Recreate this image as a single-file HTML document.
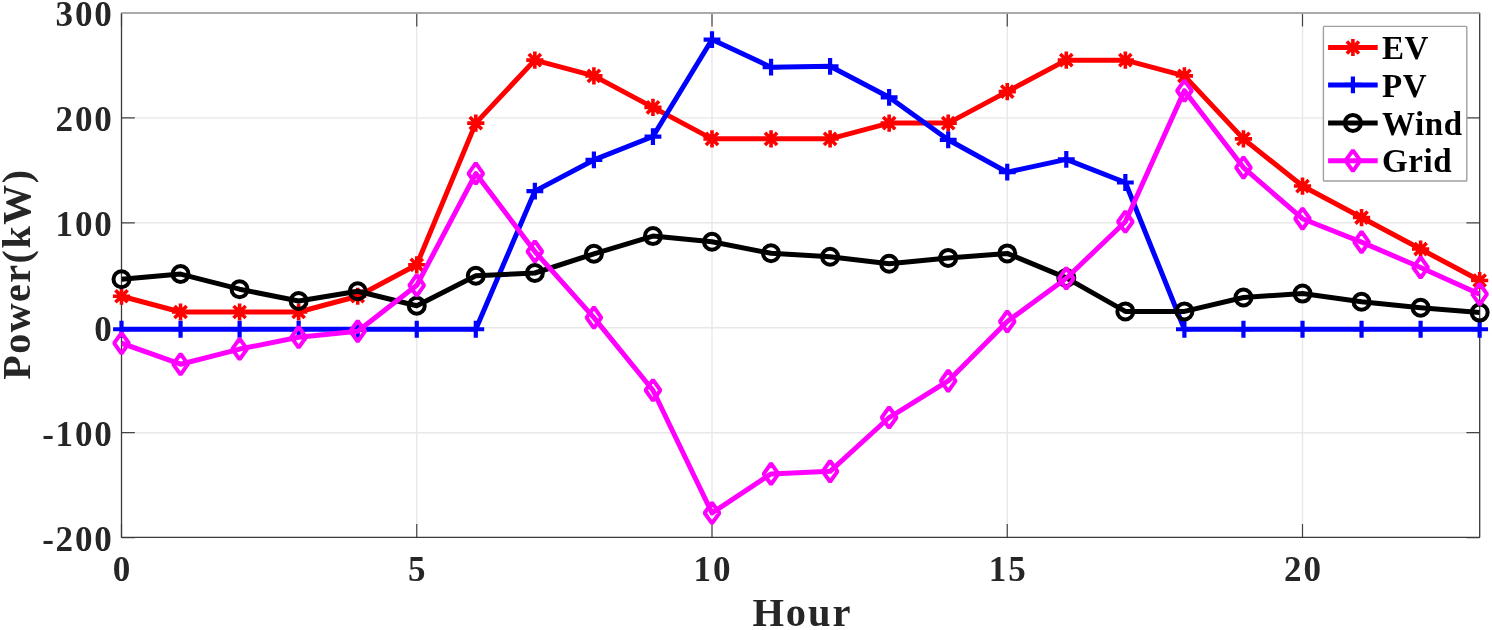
<!DOCTYPE html><html><head><meta charset="utf-8"><style>html,body{margin:0;padding:0;background:#fff;}svg{display:block;will-change:transform;}text{font-family:"Liberation Serif",serif;font-weight:bold;}</style></head><body>
<svg width="1492" height="630" viewBox="0 0 1492 630">
<rect width="1492" height="630" fill="#fff"/>
<path d="M416.75,13.1V537.4M712.00,13.1V537.4M1007.25,13.1V537.4M1302.50,13.1V537.4M121.5,432.70H1479.7M121.5,327.75H1479.7M121.5,222.80H1479.7M121.5,117.85H1479.7" stroke="#e8e8e8" stroke-width="1.4" fill="none"/>
<path d="M121.50,537.4V524.1M121.50,13.1V26.4M416.75,537.4V524.1M416.75,13.1V26.4M712.00,537.4V524.1M712.00,13.1V26.4M1007.25,537.4V524.1M1007.25,13.1V26.4M1302.50,537.4V524.1M1302.50,13.1V26.4M121.5,537.65H134.8M1479.7,537.65H1466.4M121.5,432.70H134.8M1479.7,432.70H1466.4M121.5,327.75H134.8M1479.7,327.75H1466.4M121.5,222.80H134.8M1479.7,222.80H1466.4M121.5,117.85H134.8M1479.7,117.85H1466.4M121.5,12.90H134.8M1479.7,12.90H1466.4" stroke="#444" stroke-width="1.2" fill="none"/>
<path d="M121.5,537.4H1479.7M121.5,13.1V537.4M1479.7,13.1V537.4" stroke="#3a3a3a" stroke-width="1.3" fill="none"/>
<path d="M121.5,13.1H1479.7" stroke="#aaaaaa" stroke-width="2" fill="none"/>
<clipPath id="cstar"><rect x="121.5" y="13.1" width="1358.2" height="524.3"/></clipPath>
<clipPath id="cplus"><rect x="121.5" y="13.1" width="1358.2" height="524.3"/></clipPath>
<clipPath id="ccircle"><rect x="121.5" y="13.1" width="1358.2" height="524.3"/></clipPath>
<clipPath id="cdiamond"><rect x="121.5" y="13.1" width="1358.2" height="524.3"/></clipPath>
<polyline points="121.50,296.26 180.55,312.01 239.60,312.01 298.65,312.01 357.70,296.26 416.75,264.78 475.80,123.10 534.85,60.13 593.90,75.87 652.95,107.35 712.00,138.84 771.05,138.84 830.10,138.84 889.15,123.10 948.20,123.10 1007.25,91.61 1066.30,60.13 1125.35,60.13 1184.40,75.87 1243.45,138.84 1302.50,186.07 1361.55,217.55 1420.60,249.04 1479.65,280.52" fill="none" stroke="#ff0000" stroke-width="5" stroke-linejoin="round" clip-path="url(#cstar)"/>
<path d="M112.90,296.26H130.10M121.50,287.66V304.87M115.42,290.18L127.58,302.35M115.42,302.35L127.58,290.18M171.95,312.01H189.15M180.55,303.41V320.61M174.47,305.93L186.63,318.09M174.47,318.09L186.63,305.93M231.00,312.01H248.20M239.60,303.41V320.61M233.52,305.93L245.68,318.09M233.52,318.09L245.68,305.93M290.05,312.01H307.25M298.65,303.41V320.61M292.57,305.93L304.73,318.09M292.57,318.09L304.73,305.93M349.10,296.26H366.30M357.70,287.66V304.87M351.62,290.18L363.78,302.35M351.62,302.35L363.78,290.18M408.15,264.78H425.35M416.75,256.18V273.38M410.67,258.70L422.83,270.86M410.67,270.86L422.83,258.70M467.20,123.10H484.40M475.80,114.50V131.70M469.72,117.02L481.88,129.18M469.72,129.18L481.88,117.02M526.25,60.13H543.45M534.85,51.53V68.73M528.77,54.05L540.93,66.21M528.77,66.21L540.93,54.05M585.30,75.87H602.50M593.90,67.27V84.47M587.82,69.79L599.98,81.95M587.82,81.95L599.98,69.79M644.35,107.35H661.55M652.95,98.75V115.95M646.87,101.27L659.03,113.44M646.87,113.44L659.03,101.27M703.40,138.84H720.60M712.00,130.24V147.44M705.92,132.76L718.08,144.92M705.92,144.92L718.08,132.76M762.45,138.84H779.65M771.05,130.24V147.44M764.97,132.76L777.13,144.92M764.97,144.92L777.13,132.76M821.50,138.84H838.70M830.10,130.24V147.44M824.02,132.76L836.18,144.92M824.02,144.92L836.18,132.76M880.55,123.10H897.75M889.15,114.50V131.70M883.07,117.02L895.23,129.18M883.07,129.18L895.23,117.02M939.60,123.10H956.80M948.20,114.50V131.70M942.12,117.02L954.28,129.18M942.12,129.18L954.28,117.02M998.65,91.61H1015.85M1007.25,83.01V100.21M1001.17,85.53L1013.33,97.69M1001.17,97.69L1013.33,85.53M1057.70,60.13H1074.90M1066.30,51.53V68.73M1060.22,54.05L1072.38,66.21M1060.22,66.21L1072.38,54.05M1116.75,60.13H1133.95M1125.35,51.53V68.73M1119.27,54.05L1131.43,66.21M1119.27,66.21L1131.43,54.05M1175.80,75.87H1193.00M1184.40,67.27V84.47M1178.32,69.79L1190.48,81.95M1178.32,81.95L1190.48,69.79M1234.85,138.84H1252.05M1243.45,130.24V147.44M1237.37,132.76L1249.53,144.92M1237.37,144.92L1249.53,132.76M1293.90,186.07H1311.10M1302.50,177.47V194.67M1296.42,179.99L1308.58,192.15M1296.42,192.15L1308.58,179.99M1352.95,217.55H1370.15M1361.55,208.95V226.15M1355.47,211.47L1367.63,223.63M1355.47,223.63L1367.63,211.47M1412.00,249.04H1429.20M1420.60,240.44V257.64M1414.52,242.96L1426.68,255.12M1414.52,255.12L1426.68,242.96M1471.05,280.52H1488.25M1479.65,271.92V289.12M1473.57,274.44L1485.73,286.60M1473.57,286.60L1485.73,274.44" stroke="#ff0000" stroke-width="3.6" fill="none"/>
<polyline points="121.50,329.25 180.55,329.25 239.60,329.25 298.65,329.25 357.70,329.25 416.75,329.25 475.80,329.25 534.85,191.11 593.90,159.93 652.95,136.53 712.00,39.56 771.05,67.16 830.10,66.32 889.15,97.28 948.20,139.78 1007.25,172.21 1066.30,159.41 1125.35,182.50 1184.40,329.25 1243.45,329.25 1302.50,329.25 1361.55,329.25 1420.60,329.25 1479.65,329.25" fill="none" stroke="#0000ff" stroke-width="5" stroke-linejoin="round" clip-path="url(#cplus)"/>
<path d="M113.10,329.25H129.90M121.50,320.85V337.65M172.15,329.25H188.95M180.55,320.85V337.65M231.20,329.25H248.00M239.60,320.85V337.65M290.25,329.25H307.05M298.65,320.85V337.65M349.30,329.25H366.10M357.70,320.85V337.65M408.35,329.25H425.15M416.75,320.85V337.65M467.40,329.25H484.20M475.80,320.85V337.65M526.45,191.11H543.25M534.85,182.71V199.51M585.50,159.93H602.30M593.90,151.53V168.33M644.55,136.53H661.35M652.95,128.13V144.93M703.60,39.56H720.40M712.00,31.16V47.96M762.65,67.16H779.45M771.05,58.76V75.56M821.70,66.32H838.50M830.10,57.92V74.72M880.75,97.28H897.55M889.15,88.88V105.68M939.80,139.78H956.60M948.20,131.38V148.18M998.85,172.21H1015.65M1007.25,163.81V180.61M1057.90,159.41H1074.70M1066.30,151.01V167.81M1116.95,182.50H1133.75M1125.35,174.10V190.90M1176.00,329.25H1192.80M1184.40,320.85V337.65M1235.05,329.25H1251.85M1243.45,320.85V337.65M1294.10,329.25H1310.90M1302.50,320.85V337.65M1353.15,329.25H1369.95M1361.55,320.85V337.65M1412.20,329.25H1429.00M1420.60,320.85V337.65M1471.25,329.25H1488.05M1479.65,320.85V337.65" stroke="#0000ff" stroke-width="4.2" fill="none"/>
<polyline points="121.50,279.30 180.55,274.05 239.60,289.20 298.65,301.00 357.70,291.30 416.75,305.70 475.80,275.80 534.85,273.00 593.90,253.80 652.95,236.10 712.00,241.80 771.05,253.30 830.10,256.70 889.15,263.80 948.20,257.90 1007.25,253.40 1066.30,277.90 1125.35,311.40 1184.40,311.40 1243.45,297.50 1302.50,293.60 1361.55,301.70 1420.60,307.80 1479.65,312.60" fill="none" stroke="#000000" stroke-width="5" stroke-linejoin="round" clip-path="url(#ccircle)"/>
<circle cx="121.50" cy="279.30" r="8" stroke="#000000" stroke-width="4" fill="none"/>
<circle cx="180.55" cy="274.05" r="8" stroke="#000000" stroke-width="4" fill="none"/>
<circle cx="239.60" cy="289.20" r="8" stroke="#000000" stroke-width="4" fill="none"/>
<circle cx="298.65" cy="301.00" r="8" stroke="#000000" stroke-width="4" fill="none"/>
<circle cx="357.70" cy="291.30" r="8" stroke="#000000" stroke-width="4" fill="none"/>
<circle cx="416.75" cy="305.70" r="8" stroke="#000000" stroke-width="4" fill="none"/>
<circle cx="475.80" cy="275.80" r="8" stroke="#000000" stroke-width="4" fill="none"/>
<circle cx="534.85" cy="273.00" r="8" stroke="#000000" stroke-width="4" fill="none"/>
<circle cx="593.90" cy="253.80" r="8" stroke="#000000" stroke-width="4" fill="none"/>
<circle cx="652.95" cy="236.10" r="8" stroke="#000000" stroke-width="4" fill="none"/>
<circle cx="712.00" cy="241.80" r="8" stroke="#000000" stroke-width="4" fill="none"/>
<circle cx="771.05" cy="253.30" r="8" stroke="#000000" stroke-width="4" fill="none"/>
<circle cx="830.10" cy="256.70" r="8" stroke="#000000" stroke-width="4" fill="none"/>
<circle cx="889.15" cy="263.80" r="8" stroke="#000000" stroke-width="4" fill="none"/>
<circle cx="948.20" cy="257.90" r="8" stroke="#000000" stroke-width="4" fill="none"/>
<circle cx="1007.25" cy="253.40" r="8" stroke="#000000" stroke-width="4" fill="none"/>
<circle cx="1066.30" cy="277.90" r="8" stroke="#000000" stroke-width="4" fill="none"/>
<circle cx="1125.35" cy="311.40" r="8" stroke="#000000" stroke-width="4" fill="none"/>
<circle cx="1184.40" cy="311.40" r="8" stroke="#000000" stroke-width="4" fill="none"/>
<circle cx="1243.45" cy="297.50" r="8" stroke="#000000" stroke-width="4" fill="none"/>
<circle cx="1302.50" cy="293.60" r="8" stroke="#000000" stroke-width="4" fill="none"/>
<circle cx="1361.55" cy="301.70" r="8" stroke="#000000" stroke-width="4" fill="none"/>
<circle cx="1420.60" cy="307.80" r="8" stroke="#000000" stroke-width="4" fill="none"/>
<circle cx="1479.65" cy="312.60" r="8" stroke="#000000" stroke-width="4" fill="none"/>
<polyline points="121.50,343.21 180.55,364.21 239.60,349.06 298.65,337.26 357.70,331.21 416.75,285.33 475.80,173.55 534.85,251.52 593.90,317.64 652.95,390.22 712.00,512.98 771.05,473.88 830.10,471.32 889.15,417.52 948.20,380.91 1007.25,321.50 1066.30,278.32 1125.35,221.73 1184.40,90.72 1243.45,167.59 1302.50,218.72 1361.55,242.10 1420.60,267.49 1479.65,294.17" fill="none" stroke="#ff00ff" stroke-width="5" stroke-linejoin="round" clip-path="url(#cdiamond)"/>
<path d="M121.50,332.81L128.90,343.21L121.50,353.61L114.10,343.21ZM180.55,353.81L187.95,364.21L180.55,374.61L173.15,364.21ZM239.60,338.66L247.00,349.06L239.60,359.46L232.20,349.06ZM298.65,326.86L306.05,337.26L298.65,347.66L291.25,337.26ZM357.70,320.81L365.10,331.21L357.70,341.61L350.30,331.21ZM416.75,274.93L424.15,285.33L416.75,295.73L409.35,285.33ZM475.80,163.15L483.20,173.55L475.80,183.95L468.40,173.55ZM534.85,241.12L542.25,251.52L534.85,261.92L527.45,251.52ZM593.90,307.24L601.30,317.64L593.90,328.04L586.50,317.64ZM652.95,379.82L660.35,390.22L652.95,400.62L645.55,390.22ZM712.00,502.58L719.40,512.98L712.00,523.38L704.60,512.98ZM771.05,463.48L778.45,473.88L771.05,484.28L763.65,473.88ZM830.10,460.92L837.50,471.32L830.10,481.72L822.70,471.32ZM889.15,407.12L896.55,417.52L889.15,427.92L881.75,417.52ZM948.20,370.51L955.60,380.91L948.20,391.31L940.80,380.91ZM1007.25,311.10L1014.65,321.50L1007.25,331.90L999.85,321.50ZM1066.30,267.92L1073.70,278.32L1066.30,288.72L1058.90,278.32ZM1125.35,211.33L1132.75,221.73L1125.35,232.13L1117.95,221.73ZM1184.40,80.32L1191.80,90.72L1184.40,101.12L1177.00,90.72ZM1243.45,157.19L1250.85,167.59L1243.45,177.99L1236.05,167.59ZM1302.50,208.32L1309.90,218.72L1302.50,229.12L1295.10,218.72ZM1361.55,231.70L1368.95,242.10L1361.55,252.50L1354.15,242.10ZM1420.60,257.09L1428.00,267.49L1420.60,277.89L1413.20,267.49ZM1479.65,283.77L1487.05,294.17L1479.65,304.57L1472.25,294.17Z" stroke="#ff00ff" stroke-width="4" fill="none" stroke-linejoin="bevel"/>
<rect x="1323.4" y="26.4" width="143.4" height="154.6" rx="0.8" fill="#fff" stroke="#a0a0a0" stroke-width="1.4"/>
<path d="M1328.1,47.5H1377.7" stroke="#ff0000" stroke-width="5"/>
<path d="M1344.30,47.50H1361.50M1352.90,38.90V56.10M1346.82,41.42L1358.98,53.58M1346.82,53.58L1358.98,41.42" stroke="#ff0000" stroke-width="3.6" fill="none"/>
<path d="M1328.1,84.9H1377.7" stroke="#0000ff" stroke-width="5"/>
<path d="M1344.50,84.90H1361.30M1352.90,76.50V93.30" stroke="#0000ff" stroke-width="4.2" fill="none"/>
<path d="M1328.1,122.9H1377.7" stroke="#000000" stroke-width="5"/>
<circle cx="1352.9" cy="122.9" r="8" stroke="#000000" stroke-width="4" fill="none"/>
<path d="M1328.1,160.7H1377.7" stroke="#ff00ff" stroke-width="5"/>
<path d="M1352.90,150.30L1360.30,160.70L1352.90,171.10L1345.50,160.70Z" stroke="#ff00ff" stroke-width="4" fill="none" stroke-linejoin="bevel"/>
<text x="1382" y="59.1" font-size="33" fill="#000" letter-spacing="0.6">EV</text>
<text x="1382" y="96.5" font-size="33" fill="#000" letter-spacing="0.6">PV</text>
<text x="1382" y="134.5" font-size="33" fill="#000" letter-spacing="0.6">Wind</text>
<text x="1382" y="172.3" font-size="33" fill="#000" letter-spacing="0.6">Grid</text>
<text x="122.40" y="580.6" font-size="35" fill="#262626" text-anchor="middle" letter-spacing="1.8">0</text>
<text x="417.65" y="580.6" font-size="35" fill="#262626" text-anchor="middle" letter-spacing="1.8">5</text>
<text x="712.90" y="580.6" font-size="35" fill="#262626" text-anchor="middle" letter-spacing="1.8">10</text>
<text x="1008.15" y="580.6" font-size="35" fill="#262626" text-anchor="middle" letter-spacing="1.8">15</text>
<text x="1303.40" y="580.6" font-size="35" fill="#262626" text-anchor="middle" letter-spacing="1.8">20</text>
<text x="113.5" y="550.85" font-size="35" fill="#262626" text-anchor="end" letter-spacing="1.8">-200</text>
<text x="113.5" y="445.90" font-size="35" fill="#262626" text-anchor="end" letter-spacing="1.8">-100</text>
<text x="113.5" y="340.95" font-size="35" fill="#262626" text-anchor="end" letter-spacing="1.8">0</text>
<text x="113.5" y="236.00" font-size="35" fill="#262626" text-anchor="end" letter-spacing="1.8">100</text>
<text x="113.5" y="131.05" font-size="35" fill="#262626" text-anchor="end" letter-spacing="1.8">200</text>
<text x="113.5" y="26.10" font-size="35" fill="#262626" text-anchor="end" letter-spacing="1.8">300</text>
<text x="802.4" y="626.3" font-size="40.5" fill="#262626" text-anchor="middle" letter-spacing="1.9">Hour</text>
<text transform="translate(30.3,274.1) rotate(-90)" x="0" y="0" font-size="40" fill="#262626" text-anchor="middle" letter-spacing="1.5">Power(kW)</text>
</svg></body></html>
